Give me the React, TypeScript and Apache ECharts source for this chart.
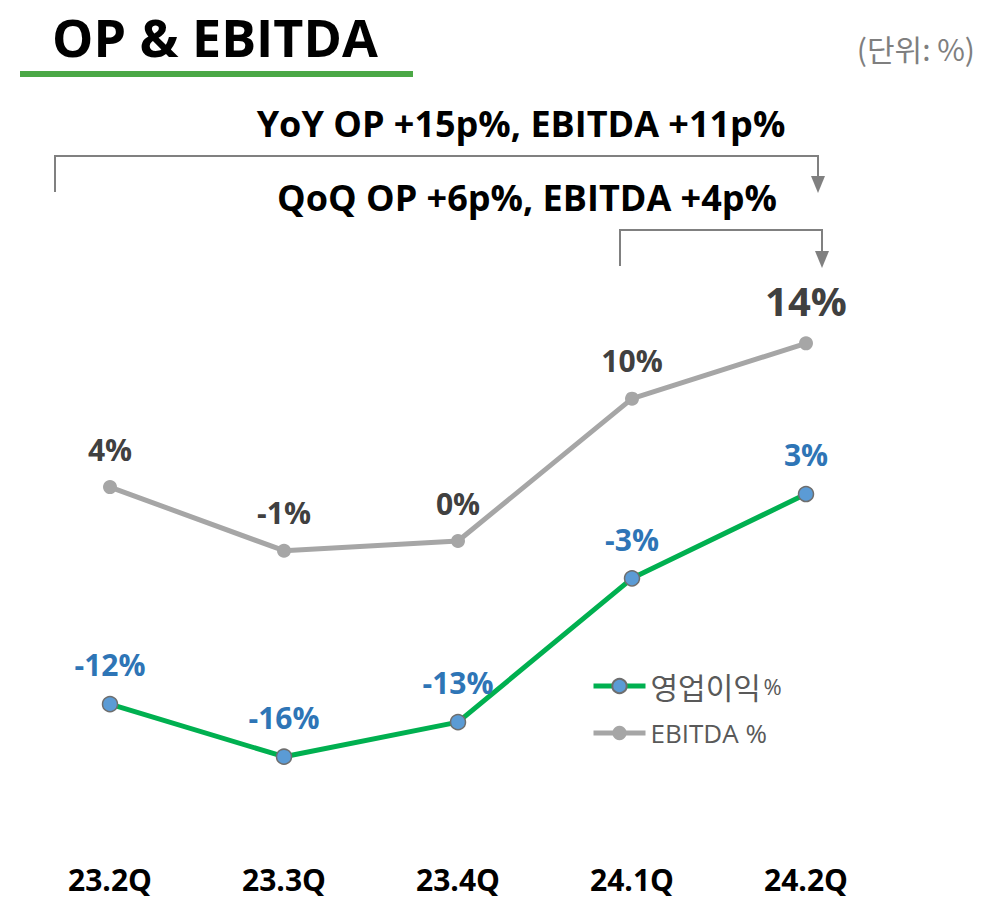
import React, { useEffect, useRef } from "react";
import * as echarts from "echarts";

const categories = ["23.2Q", "23.3Q", "23.4Q", "24.1Q", "24.2Q"];
const opValues = [-12.2, -16, -13.5, -3.1, 3.0];
const ebitdaValues = [3.5, -1.1, -0.4, 9.9, 13.9];
const seriesNames = ["영업이익 %", "EBITDA %"];
const titleText = "OP & EBITDA";
const unitText = "(단위: %)";
const yoyText = "YoY OP +15p%, EBITDA +11p%";
const qoqText = "QoQ OP +6p%, EBITDA +4p%";

const fmt = (v: number) => `${Math.round(v) === 0 ? 0 : Math.round(v)}%`;

export default function App() {
  const ref = useRef<HTMLDivElement>(null);
  useEffect(() => {
    if (!ref.current) return;
    const chart = echarts.init(ref.current, undefined, { renderer: "svg" });
    const gray = "#808080";
    const labelFont = "'Open Sans', 'Noto Sans', sans-serif";
    const krFont = "'Noto Sans CJK KR', 'Noto Sans', sans-serif";
    chart.setOption({
      animation: false,
      backgroundColor: "#ffffff",
      grid: { left: 23, right: 107, top: 259, bottom: 88 },
      xAxis: {
        type: "category",
        data: categories,
        axisLine: { show: false },
        axisTick: { show: false },
        axisLabel: {
          margin: 52,
          color: "#000000",
          fontSize: 30,
          lineHeight: 30,
          fontWeight: "bold",
          fontFamily: labelFont,
        },
      },
      yAxis: {
        type: "value",
        min: -20,
        max: 20,
        show: false,
        splitLine: { show: false },
      },
      legend: {
        orient: "vertical",
        left: 586,
        top: 666,
        itemWidth: 52,
        itemHeight: 18,
        itemGap: 19,
        lineStyle: { width: 5 },
        data: seriesNames,
        formatter: (name: string) =>
          name === seriesNames[0] ? `{a|영업이익} {b|%}` : `{c|${name}}`,
        textStyle: {
          color: "#595959",
          fontFamily: krFont,
          rich: {
            a: { fontSize: 30, color: "#595959", fontFamily: krFont },
            b: { fontSize: 22, color: "#595959", fontFamily: labelFont },
            c: { fontSize: 26, color: "#595959", fontFamily: labelFont },
          },
        },
      },
      series: [
        {
          name: seriesNames[1],
          type: "line",
          data: ebitdaValues,
          symbol: "circle",
          symbolSize: 14,
          lineStyle: { color: "#A6A6A6", width: 5 },
          itemStyle: { color: "#A6A6A6" },
          label: {
            show: true,
            position: "top",
            distance: 16,
            color: "#404040",
            fontSize: 30,
            fontWeight: "bold",
            fontFamily: labelFont,
            formatter: (p: any) =>
              p.dataIndex === ebitdaValues.length - 1
                ? `{big|${fmt(p.value)}}`
                : fmt(p.value),
            rich: {
              big: {
                fontSize: 40,
                fontWeight: "bold",
                color: "#404040",
                fontFamily: labelFont,
              },
            },
          },
          z: 2,
        },
        {
          name: seriesNames[0],
          type: "line",
          data: opValues,
          symbol: "circle",
          symbolSize: 15,
          lineStyle: { color: "#00B050", width: 5 },
          itemStyle: { color: "#5B9BD5", borderColor: "#6E6E6E", borderWidth: 1.5 },
          label: {
            show: true,
            position: "top",
            distance: 16,
            color: "#2E75B6",
            fontSize: 30,
            fontWeight: "bold",
            fontFamily: labelFont,
            formatter: (p: any) => fmt(p.value),
          },
          z: 3,
        },
      ],
      graphic: [
        {
          type: "text",
          x: 52,
          y: 36,
          style: {
            text: titleText,
            fill: "#000000",
            verticalAlign: "middle",
            font: "bold 52px 'Open Sans', 'Noto Sans', sans-serif",
          },
        },
        {
          type: "rect",
          shape: { x: 20, y: 71, width: 393, height: 6 },
          style: { fill: "#4BA846" },
        },
        {
          type: "text",
          x: 975,
          y: 48,
          style: {
            text: unitText,
            fill: "#7F7F7F",
            align: "right",
            verticalAlign: "middle",
            font: "30px 'Noto Sans CJK KR', sans-serif",
          },
        },
        {
          type: "text",
          x: 521,
          y: 123,
          style: {
            text: yoyText,
            fill: "#000000",
            align: "center",
            verticalAlign: "middle",
            font: "bold 36px 'Open Sans', 'Noto Sans', sans-serif",
          },
        },
        {
          type: "text",
          x: 527,
          y: 197,
          style: {
            text: qoqText,
            fill: "#000000",
            align: "center",
            verticalAlign: "middle",
            font: "bold 36px 'Open Sans', 'Noto Sans', sans-serif",
          },
        },
        {
          type: "polyline",
          shape: { points: [[55, 192], [55, 156], [818, 156], [818, 178]] },
          style: { stroke: gray, lineWidth: 2, fill: "none" },
        },
        {
          type: "polygon",
          shape: { points: [[811, 176], [825, 176], [818, 193]] },
          style: { fill: gray },
        },
        {
          type: "polyline",
          shape: { points: [[620, 266], [620, 230], [822, 230], [822, 253]] },
          style: { stroke: gray, lineWidth: 2, fill: "none" },
        },
        {
          type: "polygon",
          shape: { points: [[815, 251], [829, 251], [822, 268]] },
          style: { fill: gray },
        },
      ],
    });
    return () => chart.dispose();
  }, []);
  return (
    <div
      ref={ref}
      style={{ position: "fixed", left: 0, top: 0, width: 1000, height: 900 }}
    />
  );
}
